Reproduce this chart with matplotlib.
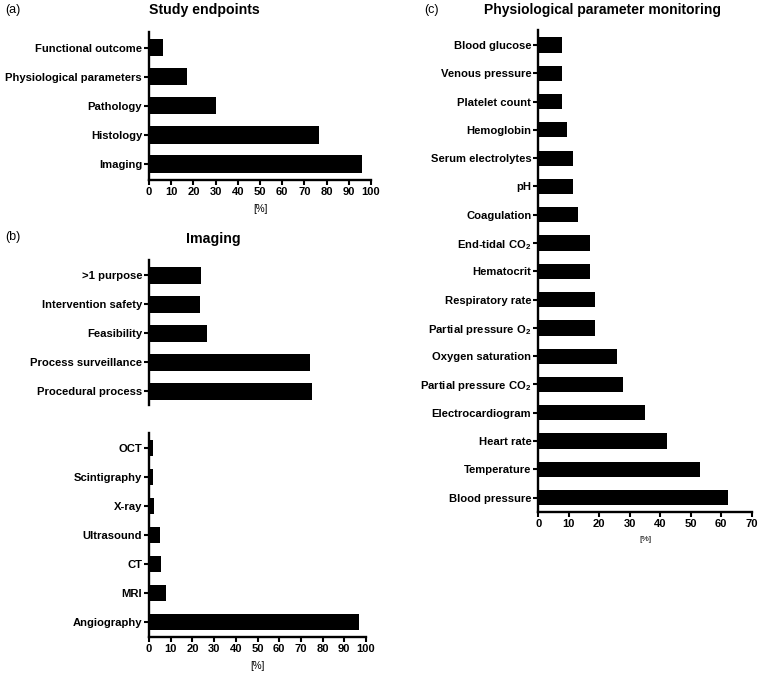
import matplotlib
matplotlib.use("Agg")
import matplotlib.pyplot as plt

plt.rcParams['font.family'] = ['Liberation Sans', 'DejaVu Sans']
plt.rcParams['mathtext.fontset'] = 'custom'
plt.rcParams['mathtext.rm'] = 'Liberation Sans'
plt.rcParams['mathtext.bf'] = 'Liberation Sans:bold'

# (a) study endpoints, listed top to bottom
endpoint_labels = ["Functional outcome", "Physiological parameters", "Pathology", "Histology", "Imaging"]
endpoint_values = [6.5, 17.3, 30.1, 76.4, 95.8]

# (b) imaging purpose
purpose_labels = [">1 purpose", "Intervention safety", "Feasibility", "Process surveillance", "Procedural process"]
purpose_values = [23.3, 23.0, 26.3, 72.5, 73.6]

# (b) imaging modality
modality_labels = ["OCT", "Scintigraphy", "X-ray", "Ultrasound", "CT", "MRI", "Angiography"]
modality_values = [1.8, 1.8, 2.5, 4.9, 5.5, 7.7, 96.9]

# (c) physiological parameter monitoring
param_labels = ["Blood glucose", "Venous pressure", "Platelet count", "Hemoglobin", "Serum electrolytes", "pH",
                "Coagulation", r"End-tidal CO$_\mathbf{2}$", "Hematocrit", "Respiratory rate",
                r"Partial pressure O$_\mathbf{2}$", "Oxygen saturation", r"Partial pressure CO$_\mathbf{2}$",
                "Electrocardiogram", "Heart rate", "Temperature", "Blood pressure"]
param_values = [7.8, 7.8, 7.8, 9.5, 11.3, 11.3, 13.1, 17.0, 17.0, 18.7, 18.7, 25.9, 27.7, 35.0, 42.2, 53.2, 62.3]

W, H = 760, 678
fig = plt.figure(figsize=(W / 100, H / 100), dpi=100)


def px_axes(x0, x1, y0, y1):
    return fig.add_axes([x0 / W, 1 - y1 / H, (x1 - x0) / W, (y1 - y0) / H])


def hbar(ax, labels, values, xmax, xstep, height, show_x=True, pad=(0.53, 0.52)):
    n = len(labels)
    ax.barh(range(n), values, height=height, color='black')
    ax.set_ylim(n - 1 + pad[1], -pad[0])
    ax.set_xlim(0, xmax)
    ax.set_yticks(range(n))
    ax.set_yticklabels(labels, fontsize=8.1, fontweight='bold')
    ax.spines['top'].set_visible(False)
    ax.spines['right'].set_visible(False)
    ax.spines['left'].set_linewidth(1.7)
    ax.spines['bottom'].set_linewidth(1.7)
    ax.tick_params(axis='both', length=3.5, width=1.5, pad=1.5)
    if show_x:
        ax.set_xticks(range(0, xmax + 1, xstep))
        for t in ax.get_xticklabels():
            t.set_fontsize(8)
            t.set_fontweight('bold')
    else:
        ax.spines['bottom'].set_visible(False)
        ax.set_xticks([])


ax_a = px_axes(149, 371, 31.7, 180)
hbar(ax_a, endpoint_labels, endpoint_values, 100, 10, 0.59, pad=(0.55, 0.55))
ax_a.set_xlabel("[%]", fontsize=7, labelpad=5)

ax_b1 = px_axes(149, 371, 260, 405)
hbar(ax_b1, purpose_labels, purpose_values, 100, 10, 0.59, show_x=False, pad=(0.52, 0.48))

ax_b2 = px_axes(149, 366, 432.7, 637)
hbar(ax_b2, modality_labels, modality_values, 100, 10, 0.58)
ax_b2.set_xlabel("[%]", fontsize=7, labelpad=5)

ax_c = px_axes(538.3, 751.7, 30, 512.3)
hbar(ax_c, param_labels, param_values, 70, 10, 0.54)
ax_c.set_xlabel("[%]", fontsize=6, labelpad=5)

fig.text(204 / W, 1 - 10 / H, "Study endpoints", ha='center', va='center', fontsize=10.2, fontweight='bold')
fig.text(213 / W, 1 - 239 / H, "Imaging", ha='center', va='center', fontsize=10.2, fontweight='bold')
fig.text(602 / W, 1 - 10 / H, "Physiological parameter monitoring", ha='center', va='center', fontsize=10, fontweight='bold')
fig.text(5 / W, 1 - 10 / H, "(a)", ha='left', va='center', fontsize=9)
fig.text(5 / W, 1 - 237 / H, "(b)", ha='left', va='center', fontsize=9)
fig.text(424 / W, 1 - 10 / H, "(c)", ha='left', va='center', fontsize=9)

fig.savefig("out.png", dpi=100, facecolor='white')
